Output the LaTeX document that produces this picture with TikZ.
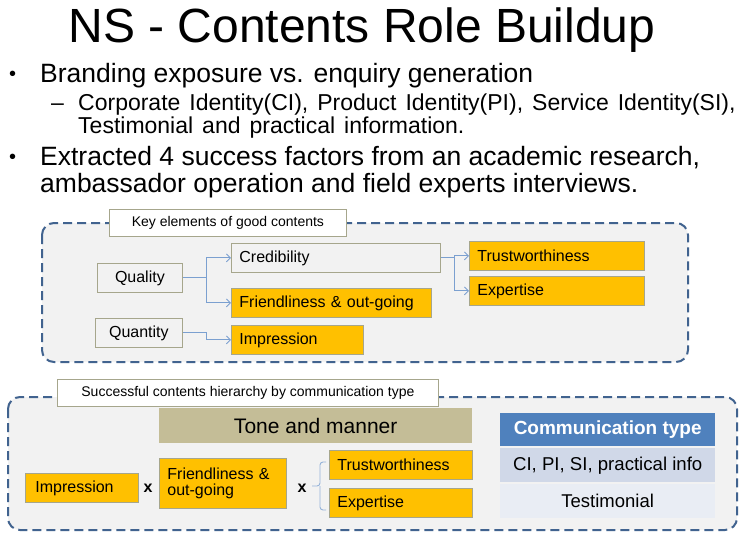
\documentclass[tikz,border=0pt]{standalone}
\usepackage{fontspec}
\setmainfont{Liberation Sans}
\usetikzlibrary{arrows.meta,calc}
\definecolor{gold}{HTML}{FFC000}
\definecolor{bord}{HTML}{A6A68C}
\definecolor{conn}{HTML}{7BA0D0}
\definecolor{dash}{HTML}{41638F}
\definecolor{panel}{HTML}{F2F2F2}
\definecolor{tone}{HTML}{C4BD97}
\definecolor{hdr}{HTML}{4F81BD}
\definecolor{rowa}{HTML}{D0D8E8}
\definecolor{rowb}{HTML}{E9EDF4}
\newcommand{\fs}[1]{\fontsize{#1}{#1}\selectfont}
\newcommand{\widesp}{\spaceskip=9pt plus 1pt\relax}
\tikzset{
  bx/.style={draw=bord, line width=0.8pt, anchor=north west, inner xsep=8pt, inner ysep=0pt, align=left, font=\fs{16}},
  goldbx/.style={bx, fill=gold},
  graybx/.style={bx, fill=panel},
  lbl/.style={draw=bord, line width=0.8pt, fill=white, anchor=north west, inner sep=0pt, align=center, font=\fs{14}},
  panelbox/.style={draw=dash, line width=2pt, dash pattern=on 9pt off 5pt, fill=panel, rounded corners=12pt},
  cn/.style={draw=conn, line width=0.9pt, -{Straight Barb[length=4pt,width=8pt]}},
  txt/.style={anchor=base west, inner sep=0pt},
}
\begin{document}
\begin{tikzpicture}[x=1pt,y=-1pt]
\useasboundingbox[fill=white] (0,0) rectangle (749,535);
% title and bullets
\node[anchor=base, inner sep=0pt, font=\fs{48}] (title) at (362,42) {NS - Contents Role Buildup};
\node[txt, font=\fs{20}] (b1d) at (9,80) {•};
\node[txt, font=\fs{26.5}] (b1) at (40,82) {Branding exposure vs. enquiry generation};
\node[txt, font=\fs{23}] (s1d) at (51,110) {–};
\node[txt, font=\fs{23}] (s1) at (78,110) {\widesp Corporate Identity(CI), Product Identity(PI), Service Identity(SI),};
\node[txt, font=\fs{23}] (s2) at (78,133) {\widesp Testimonial and practical information.};
\node[txt, font=\fs{20}] (b2d) at (9,163) {•};
\node[txt, font=\fs{26.5}] (b2) at (40,165) {Extracted 4 success factors from an academic research,};
\node[txt, font=\fs{26.5}] (b3) at (40,192) {ambassador operation and field experts interviews.};

% panel 1
\draw[panelbox] (42,223) rectangle (688,362);
\node[lbl, minimum width=237, minimum height=27] (l1) at (109,209) {Key elements of good contents};
\node[graybx, align=center, text width=69, minimum height=29] (q) at (97,263) {Quality};
\node[graybx, align=center, text width=71, minimum height=29] (qn) at (95,318) {Quantity};
\node[graybx, text width=193, minimum height=29] (cred) at (231,243) {Credibility};
\node[goldbx, text width=184, minimum height=29] (fri) at (231,288) {Friendliness \& out-going};
\node[goldbx, text width=116, minimum height=29] (imp) at (231,325) {Impression};
\node[goldbx, text width=159, minimum height=29] (tru) at (469,241) {Trustworthiness};
\node[goldbx, text width=159, minimum height=29] (exp) at (469,276) {Expertise};
\coordinate (j1) at ($(q.east)+(24,0)$);
\coordinate (j2) at ($(qn.east)+(24,0)$);
\coordinate (j3) at ($(cred.east)+(14,0)$);
\draw[cn] (q.east) -- (j1) |- (cred.west);
\draw[cn] (j1) |- (fri.west);
\draw[cn] (qn.east) -- (j2) |- (imp.west);
\draw[cn] (cred.east) -- (j3) |- (tru.west);
\draw[cn] (j3) |- (exp.west);

% panel 2
\draw[panelbox] (8,397) rectangle (737,530);
\node[lbl, minimum width=381, minimum height=27] (l2) at (57,379) {Successful contents hierarchy by communication type};
\node[fill=tone, anchor=north west, minimum width=313, minimum height=35, inner sep=0pt, font=\fs{21}] (tm) at (159,408) {Tone and manner};
\node[fill=hdr, text=white, anchor=north west, minimum width=215, minimum height=33, inner sep=0pt, font=\fs{19}\bfseries] (ct) at (500,413) {Communication type};
\node[fill=rowa, anchor=north west, minimum width=215, minimum height=34, inner sep=0pt, font=\fs{18.6}] (r1) at (500,448) {CI, PI, SI, practical info};
\node[fill=rowb, anchor=north west, minimum width=215, minimum height=34, inner sep=0pt, font=\fs{18.5}] (r2) at (500,484) {Testimonial};
\node[goldbx, inner xsep=10pt, text width=93, minimum height=29] (imp2) at (25,473) {Impression};
\node[goldbx, text width=111, minimum height=50] (fri2) at (159,458) {Friendliness \&\\out-going};
\node[goldbx, text width=127, minimum height=29] (tru2) at (329,450) {Trustworthiness};
\node[goldbx, text width=127, minimum height=29] (exp2) at (329,488) {Expertise};
\node[inner sep=0pt, font=\fs{16}\bfseries] (x1) at (148,488) {x};
\node[inner sep=0pt, font=\fs{16}\bfseries] (x2) at (302,488) {x};
\coordinate (bt) at (326,462);
\coordinate (bb) at (326,510);
\coordinate (bm) at (312,486);
\draw[draw=conn!80, line width=0.9pt, rounded corners=3pt] (bt) -- (320,462) -- (320,486) -- (bm);
\draw[draw=conn!80, line width=0.9pt, rounded corners=3pt] (bb) -- (320,510) -- (320,486);
\end{tikzpicture}
\end{document}
